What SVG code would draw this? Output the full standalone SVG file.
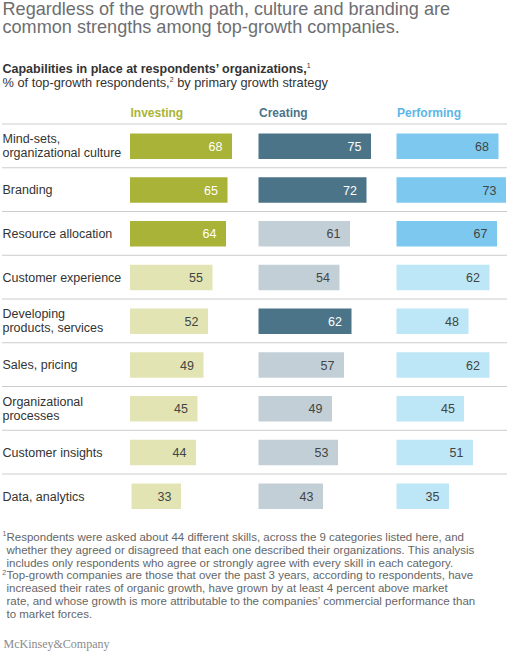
<svg xmlns="http://www.w3.org/2000/svg" width="510" height="653" viewBox="0 0 510 653">
<style>
text{font-family:"Liberation Sans",Arial,sans-serif}
.title{font-size:18.1px;fill:#6d6e71}
.sub{font-size:12.8px;fill:#333}
.subb{font-size:12.5px;fill:#333;font-weight:bold}
.hdr{font-size:12px;font-weight:bold}
.lbl{font-size:12.5px;fill:#333}
.num{font-size:12.5px;fill:#444;text-anchor:end}
.numw{font-size:12.5px;fill:#fff;text-anchor:end}
.sep{stroke:#cccccc;stroke-width:1}
.fn{font-size:11.5px;fill:#666}
.fns{font-size:7px;fill:#666}
.sup{font-size:7px}
.logo{font-family:"Liberation Serif","Times New Roman",serif;font-size:12px;fill:#8a8a8a}
.iD{fill:#a9b338}.iL{fill:#e2e5b3}
.cD{fill:#4b7488}.cL{fill:#c3cfd6}
.pD{fill:#7dc8ef}.pL{fill:#bde6f6}
</style>
<g id="title">
<text class="title" x="2.5" y="15">Regardless of the growth path, culture and branding are</text>
<text class="title" x="2.5" y="33.4">common strengths among top-growth companies.</text>
</g>
<g id="subtitle">
<text class="subb" x="2.5" y="72.7">Capabilities in place at respondents’ organizations,<tspan class="sup" dy="-5" font-weight="normal">1</tspan></text>
<text class="sub" x="2.5" y="87.3">% of top-growth respondents,<tspan class="sup" dy="-5">2</tspan><tspan dy="5"> by primary growth strategy</tspan></text>
</g>
<g id="headers">
<text class="hdr" x="130.5" y="116.7" fill="#a9b338">Investing</text>
<text class="hdr" x="259" y="116.7" fill="#4b7488">Creating</text>
<text class="hdr" x="397" y="116.7" fill="#5bb6e8">Performing</text>
</g>
<g id="separators">
<line class="sep" x1="2" y1="124" x2="507" y2="124"/>
<line class="sep" x1="2" y1="167.75" x2="507" y2="167.75"/>
<line class="sep" x1="2" y1="211.5" x2="507" y2="211.5"/>
<line class="sep" x1="2" y1="255.25" x2="507" y2="255.25"/>
<line class="sep" x1="2" y1="299" x2="507" y2="299"/>
<line class="sep" x1="2" y1="342.75" x2="507" y2="342.75"/>
<line class="sep" x1="2" y1="386.5" x2="507" y2="386.5"/>
<line class="sep" x1="2" y1="430.25" x2="507" y2="430.25"/>
<line class="sep" x1="2" y1="474" x2="507" y2="474"/>
</g>
<g id="row-mindsets">
<text class="lbl" x="2.5" y="143.3">Mind-sets,</text>
<text class="lbl" x="2.5" y="157.3">organizational culture</text>
<rect class="iD" x="130" y="133.5" width="102" height="25.5"/><text class="numw" x="222.5" y="150.75">68</text>
<rect class="cD" x="258.5" y="133.5" width="112.5" height="25.5"/><text class="numw" x="361.5" y="150.75">75</text>
<rect class="pD" x="396.5" y="133.5" width="102" height="25.5"/><text class="num" x="489" y="150.75">68</text>
</g>
<g id="row-branding">
<text class="lbl" x="2.5" y="194.25">Branding</text>
<rect class="iD" x="130" y="177.25" width="97.5" height="25.5"/><text class="numw" x="218" y="194.5">65</text>
<rect class="cD" x="258.5" y="177.25" width="108" height="25.5"/><text class="numw" x="357" y="194.5">72</text>
<rect class="pD" x="396.5" y="177.25" width="109.5" height="25.5"/><text class="num" x="496.5" y="194.5">73</text>
</g>
<g id="row-resource">
<text class="lbl" x="2.5" y="238">Resource allocation</text>
<rect class="iD" x="130" y="221" width="96" height="25.5"/><text class="numw" x="216.5" y="238.25">64</text>
<rect class="cL" x="258.5" y="221" width="91.5" height="25.5"/><text class="num" x="340.5" y="238.25">61</text>
<rect class="pD" x="396.5" y="221" width="100.5" height="25.5"/><text class="num" x="487.5" y="238.25">67</text>
</g>
<g id="row-custexp">
<text class="lbl" x="2.5" y="281.75">Customer experience</text>
<rect class="iL" x="130" y="264.75" width="82.5" height="25.5"/><text class="num" x="203" y="282">55</text>
<rect class="cL" x="258.5" y="264.75" width="81" height="25.5"/><text class="num" x="330" y="282">54</text>
<rect class="pL" x="396.5" y="264.75" width="93" height="25.5"/><text class="num" x="480" y="282">62</text>
</g>
<g id="row-developing">
<text class="lbl" x="2.5" y="318">Developing</text>
<text class="lbl" x="2.5" y="332">products, services</text>
<rect class="iL" x="130" y="308.5" width="78" height="25.5"/><text class="num" x="198.5" y="325.75">52</text>
<rect class="cD" x="258.5" y="308.5" width="93" height="25.5"/><text class="numw" x="342" y="325.75">62</text>
<rect class="pL" x="396.5" y="308.5" width="72" height="25.5"/><text class="num" x="459" y="325.75">48</text>
</g>
<g id="row-sales">
<text class="lbl" x="2.5" y="369.25">Sales, pricing</text>
<rect class="iL" x="130" y="352.25" width="73.5" height="25.5"/><text class="num" x="194" y="369.5">49</text>
<rect class="cL" x="258.5" y="352.25" width="85.5" height="25.5"/><text class="num" x="334.5" y="369.5">57</text>
<rect class="pL" x="396.5" y="352.25" width="93" height="25.5"/><text class="num" x="480" y="369.5">62</text>
</g>
<g id="row-orgproc">
<text class="lbl" x="2.5" y="405.5">Organizational</text>
<text class="lbl" x="2.5" y="419.5">processes</text>
<rect class="iL" x="130" y="396" width="67.5" height="25.5"/><text class="num" x="188" y="413.25">45</text>
<rect class="cL" x="258.5" y="396" width="73.5" height="25.5"/><text class="num" x="322.5" y="413.25">49</text>
<rect class="pL" x="396.5" y="396" width="67.5" height="25.5"/><text class="num" x="455" y="413.25">45</text>
</g>
<g id="row-custins">
<text class="lbl" x="2.5" y="456.75">Customer insights</text>
<rect class="iL" x="130" y="439.75" width="66" height="25.5"/><text class="num" x="186.5" y="457">44</text>
<rect class="cL" x="258.5" y="439.75" width="79.5" height="25.5"/><text class="num" x="328.5" y="457">53</text>
<rect class="pL" x="396.5" y="439.75" width="76.5" height="25.5"/><text class="num" x="463.5" y="457">51</text>
</g>
<g id="row-data">
<text class="lbl" x="2.5" y="500.5">Data, analytics</text>
<rect class="iL" x="131.5" y="483.5" width="49.5" height="25.5"/><text class="num" x="171.5" y="500.75">33</text>
<rect class="cL" x="258.5" y="483.5" width="64.5" height="25.5"/><text class="num" x="313.5" y="500.75">43</text>
<rect class="pL" x="396.5" y="483.5" width="52.5" height="25.5"/><text class="num" x="439.5" y="500.75">35</text>
</g>
<g id="footnotes">
<text class="fns" x="2.5" y="536">1</text>
<text class="fn" x="6.5" y="540.7">Respondents were asked about 44 different skills, across the 9 categories listed here, and</text>
<text class="fn" x="6.5" y="553.6">whether they agreed or disagreed that each one described their organizations. This analysis</text>
<text class="fn" x="6.5" y="566.5">includes only respondents who agree or strongly agree with every skill in each category.</text>
<text class="fns" x="2.3" y="574.7">2</text>
<text class="fn" x="6.5" y="579.4">Top-growth companies are those that over the past 3 years, according to respondents, have</text>
<text class="fn" x="6.5" y="592.3">increased their rates of organic growth, have grown by at least 4 percent above market</text>
<text class="fn" x="6.5" y="605.1">rate, and whose growth is more attributable to the companies’ commercial performance than</text>
<text class="fn" x="6.5" y="617.9">to market forces.</text>
</g>
<g id="logo">
<text class="logo" x="3.5" y="648.3">McKinsey&amp;Company</text>
</g>
</svg>
